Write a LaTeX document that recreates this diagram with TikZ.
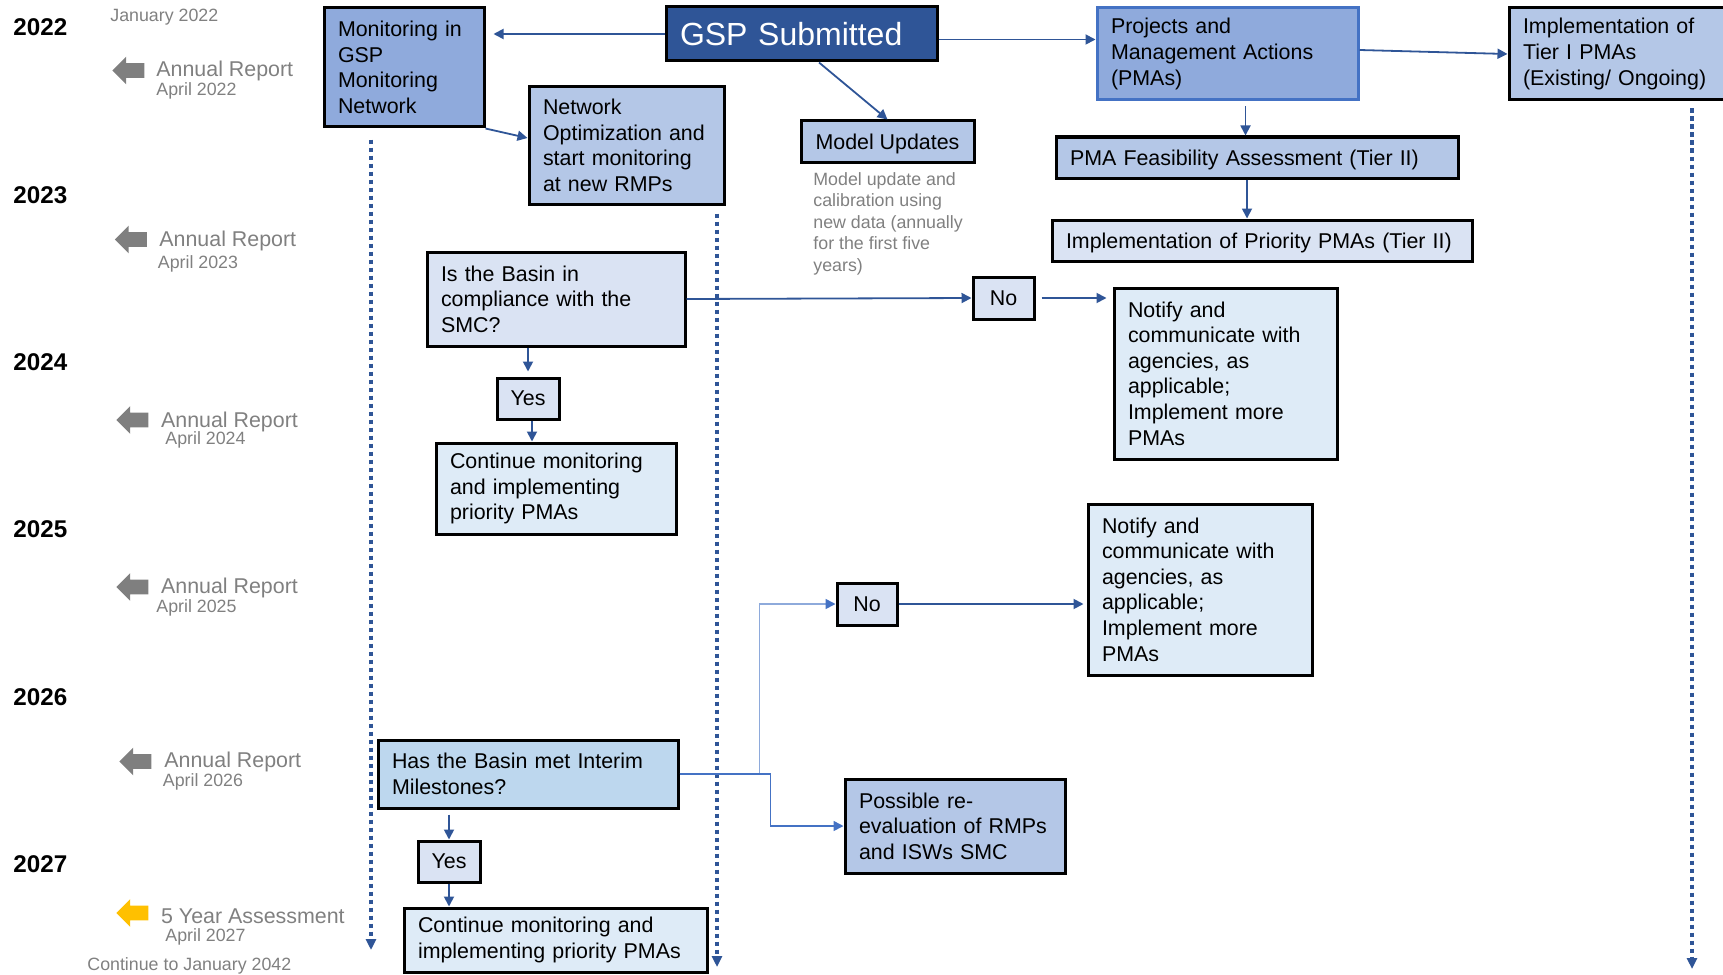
\documentclass[tikz,border=0pt]{standalone}
\usepackage{fontspec}
\setmainfont{Liberation Sans}
\usetikzlibrary{arrows.meta,shapes.arrows}

\definecolor{gspblue}{HTML}{2F5597}
\definecolor{midblue}{HTML}{8FAADC}
\definecolor{paleblue}{HTML}{B4C7E7}
\definecolor{iceblue}{HTML}{DAE3F3}
\definecolor{mistblue}{HTML}{DEEBF7}
\definecolor{skyblue}{HTML}{BDD7EE}
\definecolor{linkblue}{HTML}{2F5597}
\definecolor{pmaedge}{HTML}{4472C4}
\definecolor{softlink}{HTML}{8EAADB}
\definecolor{notegray}{HTML}{808080}
\definecolor{flaggray}{HTML}{7F7F7F}
\definecolor{assessgold}{HTML}{FFC000}

\hyphenpenalty=10000

\begin{document}
\begin{tikzpicture}[
  x=0.5pt, y=-0.5pt,
  box/.style = {draw=black, line width=1.5pt, align=left, inner xsep=7pt, inner ysep=0pt,
                font=\fontsize{10.7}{12.8}\selectfont},
  tag/.style = {draw=black, line width=1.5pt, fill=iceblue, inner sep=0pt, text depth=0pt,
                minimum width=31pt, minimum height=20.5pt, font=\fontsize{10.7}{12.8}\selectfont},
  conn/.style = {draw=linkblue, line width=0.9pt, -{Triangle[length=5pt, width=5pt]}},
  timeline/.style = {draw=linkblue, line width=2pt, dash pattern=on 2.2pt off 1.8pt,
                     -{Triangle[length=5.5pt, width=5pt]}},
  year/.style = {anchor=base west, inner sep=0pt, font=\bfseries\fontsize{12.1}{14}\selectfont},
  report/.style = {anchor=base west, inner sep=0pt, text=notegray, font=\fontsize{10.7}{12}\selectfont},
  when/.style = {anchor=base west, inner sep=0pt, text=notegray, font=\fontsize{8.9}{10.75}\selectfont},
  flag/.style = {single arrow, shape border rotate=180, fill=flaggray, inner xsep=0pt, inner ysep=3.5pt,
                 single arrow head extend=3.25pt, minimum width=13.5pt, minimum height=16pt}
]
  \useasboundingbox (0,0) rectangle (1723,974);

  % time axis on the left
  \node[year] (y22) at (13,35.3) {2022};
  \node[year] (y23) at (13,203.3) {2023};
  \node[year] (y24) at (13,370) {2024};
  \node[year] (y25) at (13,537) {2025};
  \node[year] (y26) at (13,705) {2026};
  \node[year] (y27) at (13,872) {2027};

  \node[when] (jan22) at (110,21.7) {January 2022};

  \node[flag] (f22) at (132,70.5) {};
  \node[report] (r22) at (156,76) {Annual Report};
  \node[when] (a22) at (156,96) {April 2022};

  \node[flag] (f23) at (134.5,239.5) {};
  \node[report] (r23) at (159,246.7) {Annual Report};
  \node[when] (a23) at (157.5,268) {April 2023};

  \node[flag] (f24) at (136,420) {};
  \node[report] (r24) at (160.7,427) {Annual Report};
  \node[when] (a24) at (165,444) {April 2024};

  \node[flag] (f25) at (136,587) {};
  \node[report] (r25) at (160.7,593.5) {Annual Report};
  \node[when] (a25) at (156,612.7) {April 2025};

  \node[flag] (f26) at (139,761.5) {};
  \node[report] (r26) at (164,767) {Annual Report};
  \node[when] (a26) at (162.5,786) {April 2026};

  \node[flag, fill=assessgold] (f27) at (136,913) {};
  \node[report] (r27) at (160.7,923.5) {5 Year Assessment};
  \node[when] (a27) at (165,941) {April 2027};

  \node[when] (cont42) at (87,970) {Continue to January 2042};

  % boxes
  \node[box, fill=gspblue, text=white, font=\fontsize{16}{18}\selectfont, text depth=0pt,
        text width=121.5pt, minimum height=27pt] (gsp) at (801.5,34) {GSP Submitted};
  \node[box, fill=midblue, text width=66pt, minimum height=59.5pt] (mon) at (404,67.5)
        {Monitoring in\\GSP\\Monitoring\\Network};
  \node[box, fill=paleblue, text width=83.5pt, minimum height=58.5pt] (net) at (626.5,145.5)
        {Network\\Optimization and\\start monitoring\\at new RMPs};
  \node[box, fill=paleblue, minimum width=86.5pt, minimum height=20.5pt, text depth=0pt] (mod) at (887.5,141.5)
        {Model Updates};
  \node[when, anchor=north west, align=left] (memo) at (813,172)
        {Model update and\\calibration using\\new data (annually\\for the first five\\years)};
  \node[box, fill=midblue, draw=pmaedge, text width=116.5pt, minimum height=46pt] (pma) at (1227.5,54)
        {Projects and\\Management Actions\\(PMAs)};
  \node[box, fill=paleblue, text width=94pt, minimum height=46pt] (tier1) at (1617,54)
        {Implementation of\\Tier I PMAs\\(Existing/ Ongoing)};
  \node[box, fill=paleblue, text width=187pt, minimum height=20.5pt, text depth=0pt] (feas) at (1257,157.5)
        {PMA Feasibility Assessment (Tier II)};
  \node[box, fill=iceblue, text width=196pt, minimum height=20.5pt, text depth=0pt] (prio) at (1262,240.5)
        {Implementation of Priority PMAs (Tier II)};

  \node[box, fill=iceblue, text width=115pt, minimum height=47pt] (basin) at (556,299)
        {Is the Basin in\\compliance with the\\SMC?};
  \node[tag] (yes1) at (528,398.5) {Yes};
  \node[box, fill=mistblue, text width=106pt, minimum height=45.5pt] (cont1) at (556,488.5)
        {Continue monitoring\\and implementing\\priority PMAs};
  \node[tag, minimum width=30.5pt, minimum height=21pt] (no1) at (1003.5,298) {No};
  \node[box, fill=mistblue, text width=97.5pt, minimum height=85.5pt] (not1) at (1225.5,373.5)
        {Notify and\\communicate with\\agencies, as\\applicable;\\Implement more\\PMAs};

  \node[tag, minimum width=30pt, minimum height=21pt] (no2) at (867,604) {No};
  \node[box, fill=mistblue, text width=98pt, minimum height=85.5pt] (not2) at (1200,589.5)
        {Notify and\\communicate with\\agencies, as\\applicable;\\Implement more\\PMAs};
  \node[box, fill=skyblue, text width=136pt, minimum height=34pt] (has) at (528,774)
        {Has the Basin met Interim\\Milestones?};
  \node[box, fill=paleblue, text width=96pt, minimum height=47pt] (poss) at (955,826)
        {Possible re-\\evaluation of RMPs\\and ISWs SMC};
  \node[tag] (yes2) at (449,861.5) {Yes};
  \node[box, fill=mistblue, text width=137.5pt, minimum height=32pt] (cont2) at (555.5,940)
        {Continue monitoring and\\implementing priority PMAs};

  % dotted time lines
  \coordinate (tlA) at (371,950);
  \coordinate (tlB) at (717,967);
  \coordinate (tlC) at (1692,969);
  \draw[timeline, shorten <=5.5pt] (tlA |- mon.south) -- (tlA);
  \draw[timeline, shorten <=4pt] (tlB |- net.south) -- (tlB);
  \draw[timeline, shorten <=3.5pt] (tlC |- tier1.south) -- (tlC);

  % connectors
  \draw[conn, shorten >=4pt] (gsp.west) -- (gsp.west -| mon.east);
  \draw[conn] ([xshift=8.75pt]gsp.south) -- (mod.north);
  \draw[conn] ([yshift=-2.75pt]gsp.east) -- ([yshift=-2.75pt]gsp.east -| pma.west);
  \draw[conn] (mon.south east) -- ([yshift=3.75pt]net.west);
  \draw[conn] ([yshift=2pt]pma.east) -- (tier1.west);
  \draw[conn, shorten <=2.5pt] ([xshift=9pt]pma.south) -- ([xshift=9pt]pma.south |- feas.north);
  \draw[conn] ([xshift=-5pt]feas.south) -- ([xshift=-5pt]feas.south |- prio.north);

  \draw[conn] (basin.east) -- (no1.west);
  \draw[conn, shorten <=3pt, shorten >=3pt] (no1.east) -- (not1.west |- no1.east);
  \draw[conn, shorten >=2.5pt] (yes1.north |- basin.south) -- (yes1.north);
  \draw[conn] ([xshift=2pt]yes1.south) -- ([xshift=2pt]yes1.south |- cont1.north);

  \draw[conn, draw=softlink, line width=0.8pt, -{Triangle[length=5pt, width=5pt, color=pmaedge]}]
        (has.east) -- ++(80,0) |- (no2.west);
  \draw[conn, draw=pmaedge, line width=0.8pt] (has.east) -- ++(91,0) |- (poss.west);
  \draw[conn, shorten >=1.5pt] (no2.east) -- (not2.west |- no2.east);
  \draw[conn, shorten <=2.5pt] (yes2.north |- has.south) -- (yes2.north);
  \draw[conn] (yes2.south) -- (yes2.south |- cont2.north);
\end{tikzpicture}
\end{document}
